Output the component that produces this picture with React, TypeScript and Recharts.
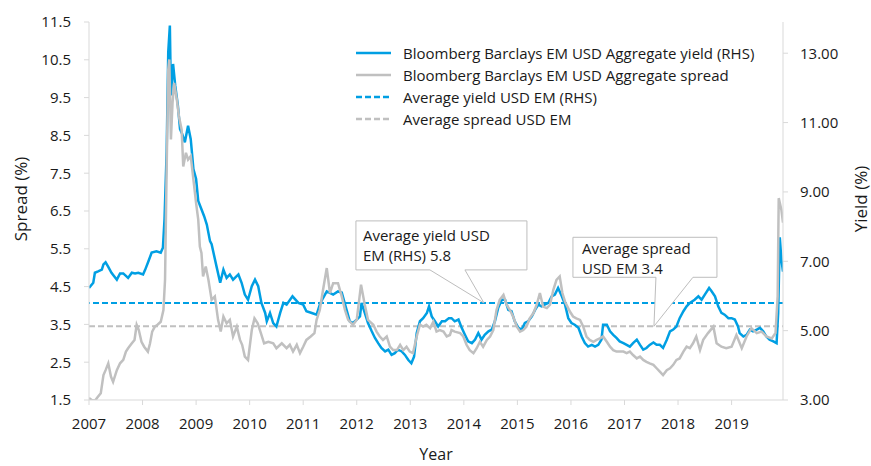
import { Legend, Line, LineChart, ReferenceDot, ReferenceLine, XAxis, YAxis } from "recharts";

const BLUE = "#009fe3";
const GREY = "#c0c0c0";
const AXIS = "#d9d9d9";
const TEXT = "#1a1a1a";
const FONT = "'Open Sans', 'Noto Sans', sans-serif";

const yearTicks = [2007, 2008, 2009, 2010, 2011, 2012, 2013, 2014, 2015, 2016, 2017, 2018, 2019];
const spreadTicks = [1.5, 2.5, 3.5, 4.5, 5.5, 6.5, 7.5, 8.5, 9.5, 10.5, 11.5];
const yieldTicks = [3, 5, 7, 9, 11, 13];

const avgYield = 5.8;
const avgSpread = 3.45;

const yieldYears = [
  2007.0, 2007.08, 2007.11, 2007.17, 2007.24, 2007.27, 2007.31, 2007.36, 2007.42, 2007.52,
  2007.58, 2007.64, 2007.73, 2007.8, 2007.86, 2007.92, 2008.01, 2008.05, 2008.11, 2008.17,
  2008.26, 2008.34, 2008.38, 2008.41, 2008.45, 2008.48, 2008.51, 2008.53, 2008.57, 2008.61,
  2008.66, 2008.7, 2008.74, 2008.79, 2008.82, 2008.85, 2008.9, 2008.95, 2009.0, 2009.04,
  2009.1, 2009.15, 2009.2, 2009.26, 2009.29, 2009.38, 2009.45, 2009.51, 2009.57, 2009.63,
  2009.69, 2009.79, 2009.85, 2009.91, 2009.97, 2010.04, 2010.1, 2010.16, 2010.22, 2010.29,
  2010.32, 2010.38, 2010.44, 2010.5, 2010.57, 2010.63, 2010.69, 2010.8, 2010.91, 2011.0,
  2011.06, 2011.16, 2011.25, 2011.31, 2011.37, 2011.44, 2011.56, 2011.65, 2011.72, 2011.81,
  2011.87, 2011.93, 2012.0, 2012.06, 2012.09, 2012.15, 2012.21, 2012.28, 2012.34, 2012.4,
  2012.46, 2012.53, 2012.59, 2012.65, 2012.71, 2012.77, 2012.84, 2012.9, 2012.96, 2013.02,
  2013.07, 2013.12, 2013.18, 2013.24, 2013.31, 2013.35, 2013.4, 2013.46, 2013.52, 2013.59,
  2013.65, 2013.72, 2013.77, 2013.83, 2013.9, 2013.96, 2014.02, 2014.08, 2014.15, 2014.21,
  2014.27, 2014.33, 2014.39, 2014.46, 2014.52, 2014.58, 2014.64, 2014.71, 2014.77, 2014.83,
  2014.89, 2014.95, 2015.02, 2015.08, 2015.14, 2015.2, 2015.27, 2015.33, 2015.39, 2015.45,
  2015.51, 2015.58, 2015.64, 2015.7, 2015.76, 2015.83, 2015.89, 2015.95, 2016.01, 2016.07,
  2016.14, 2016.2, 2016.26, 2016.32, 2016.39, 2016.45, 2016.51, 2016.57, 2016.6, 2016.67,
  2016.73, 2016.79, 2016.85, 2016.91, 2016.98, 2017.04, 2017.1, 2017.16, 2017.23, 2017.29,
  2017.35, 2017.41, 2017.47, 2017.54, 2017.6, 2017.66, 2017.72, 2017.79, 2017.85, 2017.91,
  2017.97, 2018.03, 2018.1, 2018.16, 2018.22, 2018.31, 2018.38, 2018.44, 2018.5, 2018.58,
  2018.63, 2018.69, 2018.75, 2018.81, 2018.87, 2018.94, 2019.0, 2019.06, 2019.12, 2019.15,
  2019.22, 2019.28, 2019.34, 2019.4, 2019.47, 2019.53, 2019.59, 2019.65, 2019.71, 2019.78,
  2019.84, 2019.87, 2019.9, 2019.93, 2019.96,
];

const yieldValues = [
  6.23, 6.38, 6.67, 6.71, 6.76, 6.91, 6.97, 6.84, 6.67, 6.47,
  6.65, 6.65, 6.52, 6.67, 6.65, 6.67, 6.62, 6.76, 7.0, 7.25,
  7.29, 7.25, 7.39, 8.21, 10.15, 13.04, 13.8, 11.78, 12.69, 12.07,
  11.49, 10.81, 10.67, 10.43, 10.67, 10.91, 10.52, 9.66, 9.37, 8.74,
  8.5, 8.3, 8.06, 7.58, 7.49, 6.86, 6.38, 6.76, 6.52, 6.62,
  6.47, 6.62, 6.38, 6.04, 5.89, 6.28, 6.47, 6.28, 5.8, 5.51,
  5.27, 5.51, 5.22, 5.12, 5.51, 5.8, 5.75, 5.99, 5.8, 5.75,
  5.56, 5.51, 5.46, 5.75, 5.94, 6.13, 6.04, 6.13, 6.1, 5.6,
  5.27, 5.22, 5.32, 5.41, 5.8, 5.51, 5.22, 4.98, 4.79, 4.64,
  4.5, 4.4, 4.45, 4.3, 4.35, 4.45, 4.4, 4.3, 4.16, 4.06,
  4.25, 4.93, 5.27, 5.36, 5.51, 5.7, 5.41, 5.27, 5.12, 5.27,
  5.27, 5.36, 5.36, 5.27, 5.32, 5.08, 4.88, 4.69, 4.64, 4.74,
  4.93, 4.74, 4.88, 4.98, 5.03, 5.27, 5.65, 5.89, 5.89, 5.6,
  5.56, 5.27, 5.08, 5.03, 5.22, 5.27, 5.41, 5.6, 5.75, 5.7,
  5.75, 5.8, 5.99, 6.04, 6.23, 5.99, 5.75, 5.36, 5.22, 5.17,
  5.08, 4.83, 4.64, 4.54, 4.59, 4.54, 4.59, 4.74, 5.17, 5.17,
  4.98, 4.88, 4.79, 4.69, 4.64, 4.59, 4.54, 4.64, 4.74, 4.59,
  4.45, 4.5, 4.59, 4.66, 4.59, 4.59, 4.5, 4.74, 4.98, 5.03,
  5.12, 5.36, 5.56, 5.7, 5.8, 5.89, 5.99, 5.89, 6.04, 6.23,
  6.13, 5.99, 5.7, 5.51, 5.46, 5.36, 5.36, 5.32, 5.12, 4.93,
  4.83, 4.88, 5.03, 4.98, 5.03, 5.08, 4.98, 4.83, 4.74, 4.69,
  4.64, 5.51, 7.69, 7.05, 6.7,
];

const spreadYears = [
  2007.0, 2007.05, 2007.11, 2007.17, 2007.22, 2007.27, 2007.31, 2007.36, 2007.41, 2007.45,
  2007.52, 2007.58, 2007.64, 2007.69, 2007.73, 2007.8, 2007.85, 2007.89, 2007.93, 2007.98,
  2008.03, 2008.1, 2008.14, 2008.18, 2008.23, 2008.28, 2008.34, 2008.39, 2008.42, 2008.45,
  2008.48, 2008.5, 2008.53, 2008.56, 2008.59, 2008.64, 2008.68, 2008.73, 2008.76, 2008.81,
  2008.85, 2008.9, 2008.95, 2009.0, 2009.04, 2009.07, 2009.1, 2009.13, 2009.18, 2009.23,
  2009.29, 2009.35, 2009.41, 2009.46, 2009.51, 2009.57, 2009.63, 2009.69, 2009.76, 2009.82,
  2009.86, 2009.91, 2009.97, 2010.04, 2010.09, 2010.15, 2010.21, 2010.27, 2010.35, 2010.44,
  2010.5, 2010.6, 2010.69, 2010.75, 2010.81, 2010.88, 2010.94, 2011.0, 2011.06, 2011.14,
  2011.21, 2011.25, 2011.31, 2011.37, 2011.44, 2011.5, 2011.56, 2011.65, 2011.72, 2011.78,
  2011.84, 2011.93, 2012.0, 2012.08, 2012.15, 2012.21, 2012.31, 2012.37, 2012.43, 2012.49,
  2012.56, 2012.62, 2012.68, 2012.75, 2012.81, 2012.87, 2012.93, 2012.99, 2013.05, 2013.12,
  2013.18, 2013.24, 2013.3, 2013.37, 2013.43, 2013.49, 2013.55, 2013.62, 2013.68, 2013.74,
  2013.77, 2013.83, 2013.93, 2013.99, 2014.05, 2014.11, 2014.18, 2014.24, 2014.3, 2014.36,
  2014.43, 2014.49, 2014.55, 2014.61, 2014.67, 2014.74, 2014.8, 2014.86, 2014.92, 2014.99,
  2015.05, 2015.11, 2015.17, 2015.23, 2015.3, 2015.36, 2015.42, 2015.48, 2015.55, 2015.61,
  2015.67, 2015.73, 2015.79, 2015.84, 2015.89, 2015.98, 2016.04, 2016.1, 2016.17, 2016.23,
  2016.29, 2016.35, 2016.42, 2016.48, 2016.54, 2016.6, 2016.67, 2016.73, 2016.79, 2016.85,
  2016.91, 2016.98, 2017.04, 2017.1, 2017.16, 2017.23, 2017.29, 2017.35, 2017.41, 2017.47,
  2017.54, 2017.6, 2017.66, 2017.72, 2017.79, 2017.85, 2017.91, 2017.97, 2018.03, 2018.1,
  2018.16, 2018.22, 2018.28, 2018.34, 2018.41, 2018.47, 2018.56, 2018.66, 2018.72, 2018.81,
  2018.9, 2019.0, 2019.09, 2019.19, 2019.28, 2019.37, 2019.47, 2019.56, 2019.65, 2019.75,
  2019.82, 2019.86, 2019.88, 2019.93, 2019.96,
];

const spreadValues = [
  1.55, 1.5, 1.48, 1.59, 1.68, 2.16, 2.29, 2.47, 2.12, 1.98,
  2.29, 2.47, 2.56, 2.78, 2.87, 3.0, 3.09, 3.49, 3.35, 3.04,
  2.91, 2.78, 3.0, 3.31, 3.44, 3.49, 3.57, 3.88, 4.68, 7.59,
  10.24, 10.51, 8.39, 9.36, 9.89, 9.45, 9.0, 8.65, 7.68, 8.04,
  7.86, 7.95, 7.33, 6.71, 6.27, 5.56, 5.39, 4.77, 5.03, 4.68,
  4.15, 4.24, 3.62, 3.31, 3.71, 3.53, 3.62, 3.18, 3.44, 3.09,
  2.96, 2.65, 2.56, 3.35, 3.66, 3.53, 3.27, 3.0, 3.04, 3.0,
  2.87, 3.0, 2.87, 2.96, 2.78, 2.96, 2.74, 2.91, 3.09, 3.18,
  3.27, 3.62, 3.88, 4.41, 4.99, 4.33, 4.59, 4.59, 4.24, 3.88,
  3.62, 3.49, 3.62, 4.55, 4.02, 3.62, 3.49, 3.31, 3.18, 3.09,
  3.18, 2.91, 2.82, 2.82, 2.96, 2.82, 2.91, 2.78, 2.74, 3.18,
  3.49, 3.44, 3.49, 3.4, 3.57, 3.31, 3.35, 3.31, 3.18, 3.22,
  3.35, 3.31, 3.27, 3.18, 2.96, 2.82, 2.74, 2.87, 3.04, 2.91,
  3.09, 3.18, 3.35, 3.88, 4.15, 4.28, 4.02, 3.88, 3.71, 3.44,
  3.31, 3.35, 3.44, 3.66, 3.8, 4.02, 4.33, 3.97, 3.93, 4.02,
  4.41, 4.68, 4.77, 4.33, 4.1, 3.84, 3.71, 3.66, 3.62, 3.44,
  3.18, 3.09, 3.04, 3.09, 3.13, 3.18, 3.04, 2.91, 2.82, 2.78,
  2.78, 2.78, 2.74, 2.78, 2.69, 2.6, 2.65, 2.56, 2.51, 2.47,
  2.43, 2.34, 2.25, 2.16, 2.29, 2.34, 2.43, 2.56, 2.6, 2.78,
  2.91, 2.87, 3.0, 3.18, 2.82, 3.09, 3.27, 3.44, 3.0, 2.91,
  2.87, 2.91, 3.22, 2.87, 3.18, 3.4, 3.27, 3.31, 3.18, 3.13,
  3.27, 4.24, 6.84, 6.53, 6.19,
];

const yieldData = yieldYears.map((year, i) => ({ year, value: yieldValues[i] }));
const spreadData = spreadYears.map((year, i) => ({ year, value: spreadValues[i] }));

const legendItems = [
  { label: "Bloomberg Barclays EM USD Aggregate yield (RHS)", color: BLUE, dash: undefined },
  { label: "Bloomberg Barclays EM USD Aggregate spread", color: GREY, dash: undefined },
  { label: "Average yield USD EM (RHS)", color: BLUE, dash: "6 3" },
  { label: "Average spread USD EM", color: GREY, dash: "6 3" },
];

const tickStyle = { fontSize: 15, fill: TEXT, fontFamily: FONT };

function LegendBox() {
  return (
    <div style={{ fontFamily: FONT, fontSize: 15, color: TEXT }}>
      {legendItems.map((item) => (
        <div key={item.label} style={{ display: "flex", alignItems: "center", height: 22 }}>
          <svg width={47} height={10}>
            <line
              x1={0}
              x2={35}
              y1={5}
              y2={5}
              stroke={item.color}
              strokeWidth={2.5}
              strokeDasharray={item.dash}
            />
          </svg>
          <span style={{ whiteSpace: "nowrap" }}>{item.label}</span>
        </div>
      ))}
    </div>
  );
}

// callout box with a pointer whose tip sits on the reference point
function Callout({
  cx,
  cy,
  path,
  lines,
  textX,
  textY,
}: {
  cx?: number;
  cy?: number;
  path: string;
  lines: string[];
  textX: number;
  textY: number;
}) {
  if (cx == null || cy == null) return null;
  return (
    <g transform={`translate(${cx},${cy})`}>
      <path d={path} fill="#fff" stroke="#bdbdbd" strokeWidth={1} />
      {lines.map((t, i) => (
        <text
          key={t}
          x={textX}
          y={textY + i * 20}
          dominantBaseline="central"
          fontSize={15}
          fontFamily={FONT}
          fill={TEXT}
        >
          {t}
        </text>
      ))}
    </g>
  );
}

const yTitle = (text: string, side: "left" | "right") => (props: any) => {
  const vb = props.viewBox || {};
  const x = side === "left" ? vb.x + 20 : vb.x + vb.width - 11;
  const y = vb.y + vb.height / 2 - 12;
  return (
    <text
      x={x}
      y={y}
      transform={`rotate(-90 ${x} ${y})`}
      textAnchor="middle"
      dominantBaseline="central"
      fontSize={17}
      fontFamily={FONT}
      fill={TEXT}
    >
      {text}
    </text>
  );
};

const xTitle = (props: any) => {
  const vb = props.viewBox || {};
  return (
    <text
      x={vb.x + vb.width / 2}
      y={vb.y + vb.height - 6}
      textAnchor="middle"
      fontSize={16}
      fontFamily={FONT}
      fill={TEXT}
    >
      Year
    </text>
  );
};

export default function App() {
  return (
    <div style={{ position: "absolute", left: 0, top: 0, width: 871, height: 466, background: "#fff" }}>
      <LineChart width={871} height={466} margin={{ top: 22, right: 0, bottom: 0, left: 0 }}>
        <XAxis
          type="number"
          dataKey="year"
          domain={[2007, 2019.96]}
          ticks={yearTicks}
          allowDataOverflow
          height={66}
          tick={tickStyle}
          tickSize={5}
          tickMargin={13}
          axisLine={{ stroke: AXIS }}
          tickLine={{ stroke: AXIS }}
          label={{ content: xTitle }}
        />
        <YAxis
          yAxisId="left"
          domain={[1.5, 11.5]}
          ticks={spreadTicks}
          allowDataOverflow
          width={89}
          tick={tickStyle}
          tickSize={5}
          tickMargin={13}
          tickFormatter={(v: number) => v.toFixed(1)}
          axisLine={{ stroke: AXIS }}
          tickLine={{ stroke: AXIS }}
          label={{ content: yTitle("Spread (%)", "left") }}
        />
        <YAxis
          yAxisId="right"
          orientation="right"
          domain={[3, 13.9]}
          ticks={yieldTicks}
          allowDataOverflow
          width={88}
          tick={tickStyle}
          tickSize={5}
          tickMargin={12}
          tickFormatter={(v: number) => v.toFixed(2)}
          axisLine={{ stroke: AXIS }}
          tickLine={{ stroke: AXIS }}
          label={{ content: yTitle("Yield (%)", "right") }}
        />
        <ReferenceLine yAxisId="right" y={avgYield} stroke={BLUE} strokeWidth={2} strokeDasharray="6 3" />
        <ReferenceLine yAxisId="left" y={avgSpread} stroke={GREY} strokeWidth={2} strokeDasharray="6 3" />
        <Line
          data={yieldData}
          yAxisId="right"
          dataKey="value"
          type="linear"
          stroke={BLUE}
          strokeWidth={2.5}
          dot={false}
          isAnimationActive={false}
        />
        <Line
          data={spreadData}
          yAxisId="left"
          dataKey="value"
          type="linear"
          stroke={GREY}
          strokeWidth={2.5}
          dot={false}
          isAnimationActive={false}
        />
        <ReferenceDot
          yAxisId="right"
          x={2014.375}
          y={avgYield}
          shape={(p: any) => (
            <Callout
              cx={p.cx}
              cy={p.cy}
              path="M-128,-82 H43 V-33 H-19 L0,0 L-54,-33 H-128 Z"
              lines={["Average yield USD", "EM (RHS) 5.8"]}
              textX={-121}
              textY={-68}
            />
          )}
        />
        <ReferenceDot
          yAxisId="left"
          x={2017.55}
          y={avgSpread}
          shape={(p: any) => (
            <Callout
              cx={p.cx}
              cy={p.cy}
              path="M-81,-89 H63 V-49 H39 L0,0 L2,-49 H-81 Z"
              lines={["Average spread", "USD EM 3.4"]}
              textX={-72}
              textY={-78}
            />
          )}
        />
        <Legend
          layout="vertical"
          align="center"
          verticalAlign="middle"
          wrapperStyle={{ left: 356, top: 42, width: "auto" }}
          content={() => <LegendBox />}
        />
      </LineChart>
    </div>
  );
}
